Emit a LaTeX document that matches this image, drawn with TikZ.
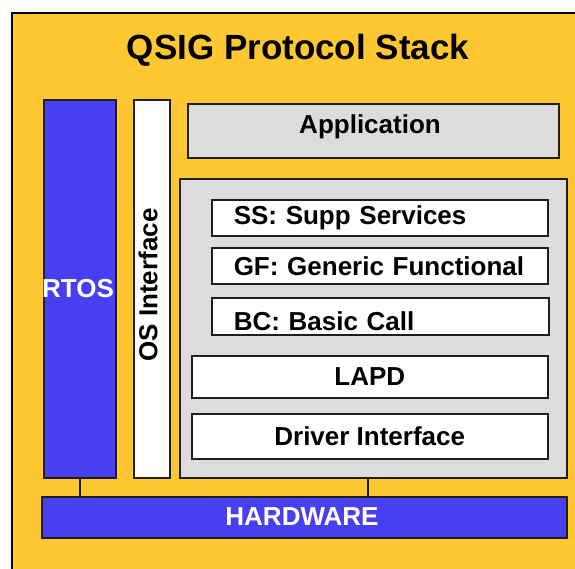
\documentclass[tikz,border=0pt]{standalone}
\usepackage{fontspec}
\setmainfont{Liberation Sans}
\definecolor{bgyellow}{RGB}{255,200,50}
\definecolor{rtblue}{RGB}{72,64,240}
\definecolor{lgray}{RGB}{220,220,220}
\definecolor{edge}{RGB}{30,30,30}
\tikzset{
  box/.style={draw=edge, line width=1.5pt, rectangle, inner sep=0pt, anchor=north west, font=\bfseries\fontsize{26}{28}\selectfont},
  bluebox/.style={box, fill=rtblue, text=white},
  whitebox/.style={box, fill=white},
  graybox/.style={box, fill=lgray},
  layerbox/.style={whitebox, inner xsep=22pt, align=left},
  link/.style={draw=edge, line width=1.5pt}
}
\begin{document}
\begin{tikzpicture}[x=1pt,y=-1pt]
\useasboundingbox (0,0) rectangle (575,568);
\clip (0,0) rectangle (575,568);
\fill[white] (0,0) rectangle (575,568);
\draw[fill=bgyellow, draw=black, line width=2pt] (12,13) rectangle (620,620);
\node[font=\bfseries\fontsize{35}{37}\selectfont] (title) at (298,50) {QSIG Protocol Stack};
% left columns
\node[bluebox, minimum width=72pt, minimum height=378pt] (rtos) at (43,99) {};
\node[font=\bfseries\fontsize{26}{28}\selectfont, text=white] (rtostext) at (78,289) {RTOS};
\node[whitebox, minimum width=36pt, minimum height=378pt] (osif) at (133,99) {};
\node[font=\bfseries\fontsize{26}{28}\selectfont, rotate=90] (ostext) at (148,285) {OS Interface};
% application
\node[graybox, minimum width=371pt, minimum height=54pt] (app) at (187,103) {};
\node[font=\bfseries\fontsize{26}{28}\selectfont] (apptext) at (370,127) {Application};
% stack
\node[graybox, minimum width=387pt, minimum height=299pt] (stack) at (179,178) {};
\node[layerbox, minimum width=336pt, minimum height=36pt, text width=292pt] (ss) at (211,199) {SS: Supp Services};
\node[layerbox, minimum width=336pt, minimum height=36pt, text width=292pt] (gf) at (211,247) {GF: Generic Functional};
\node[layerbox, minimum width=337pt, minimum height=37pt, text width=293pt] (bc) at (211,297) {\smash{\raisebox{-14.5pt}{BC: Basic Call}}};
\node[whitebox, minimum width=356pt, minimum height=42pt] (lapd) at (191,355) {LAPD};
\node[whitebox, minimum width=356pt, minimum height=45pt] (drv) at (191,413) {Driver Interface};
% hardware
\node[bluebox, minimum width=525pt, minimum height=41pt] (hw) at (41,496) {};
\node[font=\bfseries\fontsize{26}{28}\selectfont, text=white] (hwtext) at (302,517) {HARDWARE};
% connectors
\coordinate (stackfoot) at (368,477);
\draw[link] (rtos.south) -- (rtos.south |- hw.north);
\draw[link] (stackfoot) -- (stackfoot |- hw.north);
\end{tikzpicture}
\end{document}
